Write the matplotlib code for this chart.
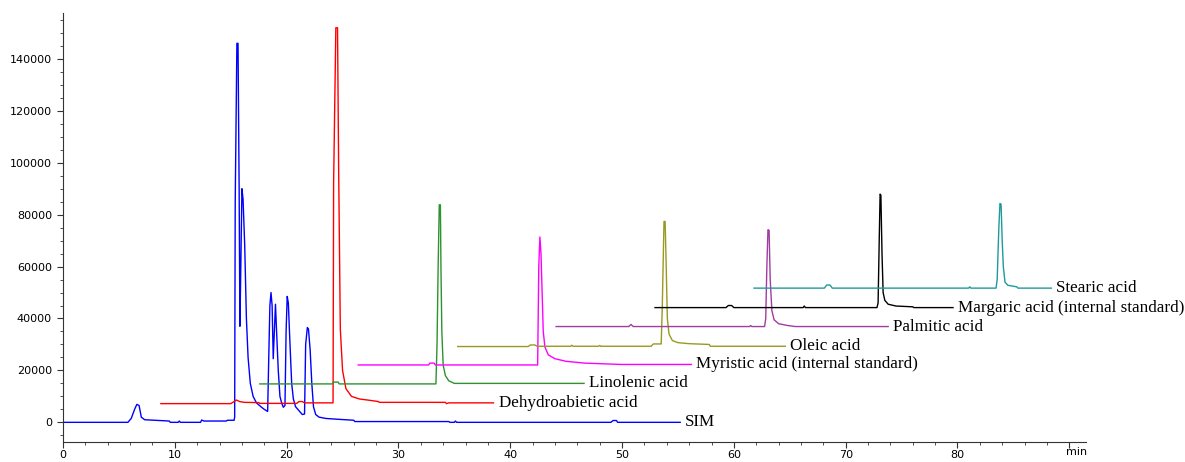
import matplotlib.pyplot as plt
from matplotlib.ticker import MultipleLocator

# retention time (min) / abundance for each trace
sim_t = [0, 5.8, 6.1, 6.4, 6.6, 6.8, 7.0, 7.3, 9.5, 9.6, 10.3, 10.4, 10.5, 12.3, 12.4, 12.6, 14.6, 14.7, 15.3,
         15.35, 15.4, 15.55, 15.65, 15.75, 15.82, 15.9, 16.0, 16.1, 16.25, 16.4, 16.55, 16.75, 17.0, 17.3, 17.7,
         18.0, 18.3, 18.4, 18.5, 18.6, 18.7, 18.8, 18.9, 19.0, 19.1, 19.25, 19.4, 19.55, 19.7, 19.85, 19.95,
         20.05, 20.15, 20.3, 20.45, 20.6, 20.8, 21.1, 21.4, 21.6, 21.7, 21.85, 21.95, 22.1, 22.25, 22.4, 22.6,
         22.9, 23.5, 24.5, 26.0, 26.1, 34.5, 34.6, 35.0, 35.1, 35.2, 49.0, 49.2, 49.5, 49.6, 55.2]
sim_y = [0, 0, 1500, 5000, 6900, 6500, 2000, 1000, 500, 0, 0, 500, 0, 0, 900, 500, 500, 800, 800,
         2000, 85000, 146000, 146000, 90000, 37000, 60000, 90000, 86000, 68000, 40000, 25000, 15000, 10000, 7500, 6000,
         5000, 4200, 25000, 45000, 50000, 45000, 24500, 35000, 45500, 35000, 20000, 10000, 7500, 5800, 6500, 35000,
         48500, 46000, 30000, 15000, 9000, 6000, 4500, 3000, 3200, 30000, 36500, 36000, 28000, 15000, 6000, 3000,
         2000, 1500, 1200, 800, 300, 300, 0, 0, 500, 0, 0, 700, 700, 0, 0]

dehydro_t = [8.75, 15.0, 15.3, 15.5, 15.8, 16.2, 17.5, 17.6, 20.9, 21.1, 21.4, 21.6, 24.15, 24.2, 24.4, 24.55,
             24.65, 24.8, 25.0, 25.3, 25.8, 26.5, 27.4, 28.2, 28.3, 34.2, 34.3, 34.5, 38.5]
dehydro_y = [7200, 7200, 8000, 8600, 8000, 7700, 7600, 7300, 7300, 8000, 8000, 7500, 7500, 92000, 152000, 152000,
             98000, 36000, 20000, 13000, 10000, 9000, 8500, 8000, 7700, 7700, 7200, 7500, 7500]

linolenic_t = [17.6, 24.1, 24.2, 24.6, 24.7, 33.35, 33.45, 33.55, 33.65, 33.75, 33.8, 33.88, 34.0, 34.2, 34.5,
               35.0, 46.6]
linolenic_y = [14800, 14800, 15500, 15500, 14800, 14800, 30000, 60000, 83800, 83800, 60000, 35000, 22000, 18000,
               16000, 15000, 15000]

myristic_t = [26.4, 32.7, 32.8, 33.2, 33.3, 42.45, 42.55, 42.65, 42.75, 42.85, 42.95, 43.1, 43.4, 44.0, 45.0,
              46.7, 49.9, 56.2]
myristic_y = [22100, 22100, 22800, 22800, 22100, 22100, 60000, 71400, 65000, 50000, 35000, 29000, 26000, 24500,
              23500, 22800, 22300, 22300]

oleic_t = [35.3, 41.6, 41.8, 42.2, 42.4, 45.4, 45.5, 45.6, 47.9, 48.0, 48.1, 52.6, 52.8, 53.5, 53.6, 53.75,
           53.85, 53.95, 54.05, 54.2, 54.5, 55.0, 56.0, 57.8, 57.9, 64.6]
oleic_y = [29200, 29200, 29800, 29800, 29300, 29300, 29700, 29300, 29300, 29600, 29300, 29300, 30200, 30200,
           45000, 77400, 77400, 60000, 40000, 34000, 31500, 30700, 30300, 30000, 29300, 29300]

palmitic_t = [44.1, 50.6, 50.8, 51.0, 61.4, 61.5, 61.6, 62.75, 62.85, 62.95, 63.05, 63.15, 63.25, 63.4, 63.6,
              64.0, 64.8, 65.5, 73.8]
palmitic_y = [36900, 36900, 37700, 36900, 36900, 37300, 36900, 36900, 40000, 60000, 74200, 74000, 55000, 43000,
              39500, 38000, 37300, 36900, 36900]

margaric_t = [52.95, 59.3, 59.5, 59.8, 60.0, 66.2, 66.3, 66.4, 72.8, 72.9, 73.0, 73.08, 73.15, 73.25, 73.35,
              73.5, 73.8, 74.5, 76.0, 76.1, 79.6]
margaric_y = [44200, 44200, 45000, 45000, 44200, 44200, 44800, 44200, 44200, 46000, 70000, 87900, 87500, 65000,
              50000, 47000, 45500, 44800, 44500, 44200, 44200]

stearic_t = [61.8, 68.1, 68.3, 68.6, 68.8, 81.0, 81.1, 81.2, 83.45, 83.55, 83.7, 83.8, 83.9, 84.0, 84.1, 84.25,
             84.5, 85.3, 85.4, 88.4]
stearic_y = [51700, 51700, 52900, 52900, 51700, 51700, 52200, 51700, 51700, 55000, 75000, 84300, 84000, 70000,
             60000, 54000, 52800, 52200, 51700, 51700]

traces = [
    (sim_t, sim_y, '#0000ff', 'SIM'),
    (dehydro_t, dehydro_y, '#ff0000', 'Dehydroabietic acid'),
    (linolenic_t, linolenic_y, '#2e922e', 'Linolenic acid'),
    (myristic_t, myristic_y, '#ff00ff', 'Myristic acid (internal standard)'),
    (oleic_t, oleic_y, '#999922', 'Oleic acid'),
    (palmitic_t, palmitic_y, '#a13ca1', 'Palmitic acid'),
    (margaric_t, margaric_y, '#000000', 'Margaric acid (internal standard)'),
    (stearic_t, stearic_y, '#1f9a9a', 'Stearic acid'),
]

fig, ax = plt.subplots(figsize=(11.85, 4.62), dpi=100)
fig.subplots_adjust(left=0.0532, right=0.9165, bottom=0.0426, top=0.9725)

for t, y, c, name in traces:
    ax.plot(t, y, color=c, lw=1.0)
    ax.text(t[-1] + 0.45, y[-1], name, color='black', fontsize=12.3,
            family='Liberation Serif', ha='left', va='center')

ax.set_xlim(0, 91.5)
ax.set_ylim(-7700, 157800)

ax.spines['top'].set_visible(False)
ax.spines['right'].set_visible(False)
ax.spines['left'].set_color('#333333')
ax.spines['bottom'].set_color('#333333')

ax.set_xticks(range(0, 100, 10))
ax.set_xticklabels([str(v) for v in range(0, 90, 10)] + [''])
ax.xaxis.set_minor_locator(MultipleLocator(2))
ax.set_yticks(range(0, 160000, 20000))
ax.yaxis.set_minor_locator(MultipleLocator(5000))
ax.tick_params(which='major', length=4.5, labelsize=8, color='#333333')
ax.tick_params(which='minor', length=2.5, color='#333333')
ax.tick_params(axis='x', which='major', pad=1)
ax.text(89.7, -0.012, 'min', transform=ax.get_xaxis_transform(), fontsize=8, ha='left', va='top')

plt.savefig('out.png')
